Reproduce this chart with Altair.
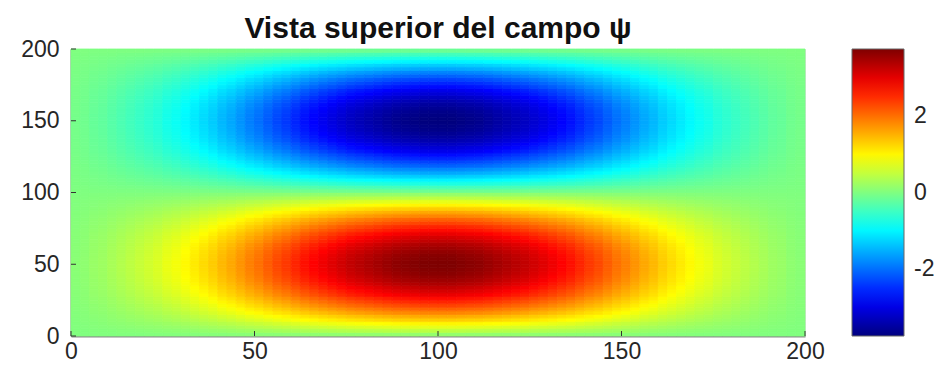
import altair as alt
import pandas as pd

# ---- values ----
title_text = "Vista superior del campo ψ"
amplitude = 3.75            # colour-bar extent (±)
cell = 2.5                  # grid spacing of the sampled field
x_ticks = [0, 50, 100, 150, 200]
y_ticks = [0, 50, 100, 150, 200]
cbar_ticks = [-2, 0, 2]

# normalised profile of psi along x (read along the row through the red core)
x_profile = [0.02, 0.03, 0.05, 0.06, 0.08, 0.10, 0.12, 0.14, 0.16, 0.18,
             0.21, 0.23, 0.26, 0.29, 0.32, 0.35, 0.39, 0.42, 0.46, 0.50,
             0.53, 0.57, 0.61, 0.64, 0.68, 0.72, 0.75, 0.78, 0.81, 0.84,
             0.87, 0.89, 0.91, 0.93, 0.95, 0.97, 0.98, 0.99, 1.00, 1.00,
             1.00, 1.00, 0.99, 0.98, 0.97, 0.95, 0.93, 0.91, 0.89, 0.87,
             0.84, 0.81, 0.78, 0.75, 0.72, 0.68, 0.64, 0.61, 0.57, 0.53,
             0.50, 0.46, 0.42, 0.39, 0.35, 0.32, 0.29, 0.26, 0.23, 0.21,
             0.18, 0.16, 0.14, 0.12, 0.10, 0.08, 0.06, 0.05, 0.03, 0.02]

# normalised profile of psi along y (read along the column x = 100)
y_profile = [0.04, 0.12, 0.20, 0.27, 0.35, 0.42, 0.49, 0.56, 0.62, 0.68,
             0.73, 0.79, 0.83, 0.87, 0.91, 0.94, 0.96, 0.98, 0.99, 1.00,
             1.00, 0.99, 0.98, 0.96, 0.94, 0.91, 0.87, 0.83, 0.79, 0.73,
             0.68, 0.62, 0.56, 0.49, 0.42, 0.35, 0.27, 0.20, 0.12, 0.04,
             -0.04, -0.12, -0.20, -0.27, -0.35, -0.42, -0.49, -0.56, -0.62, -0.68,
             -0.73, -0.79, -0.83, -0.87, -0.91, -0.94, -0.96, -0.98, -0.99, -1.00,
             -1.00, -0.99, -0.98, -0.96, -0.94, -0.91, -0.87, -0.83, -0.79, -0.73,
             -0.68, -0.62, -0.56, -0.49, -0.42, -0.35, -0.27, -0.20, -0.12, -0.04]

# jet colour map stops
jet_domain = [-amplitude, -0.75 * amplitude, -0.25 * amplitude,
              0.25 * amplitude, 0.75 * amplitude, amplitude]
jet_range = ["#00007F", "#0000FF", "#00FFFF", "#FFFF00", "#FF0000", "#7F0000"]

# ---- table ----
rows = []
for i, fx in enumerate(x_profile):
    for j, fy in enumerate(y_profile):
        v = amplitude * fx * fy
        rows.append({"x0": i * cell, "x1": (i + 1) * cell,
                     "y0": j * cell, "y1": (j + 1) * cell,
                     "psi": v, "psi_edge": v})
df = pd.DataFrame(rows)

FONT = "Liberation Sans"
TXT = "#262626"

color_scale = alt.Scale(type="linear", domain=jet_domain, range=jet_range,
                        interpolate="rgb")
edge_scale = alt.Scale(type="linear", domain=jet_domain, range=jet_range,
                       interpolate="rgb")

xs = alt.Scale(domain=[0, 200], nice=False, zero=False)
ys = alt.Scale(domain=[0, 200], nice=False, zero=False)

x_axis = alt.Axis(values=x_ticks, title=None, ticks=False, grid=False,
                  labelFont=FONT, labelFontSize=23, labelColor=TXT,
                  labelPadding=4, domainColor="#8a8a8a", domainWidth=2,
                  labelFlush=False)
y_axis = alt.Axis(values=y_ticks, title=None, ticks=False, grid=False,
                  labelFont=FONT, labelFontSize=23, labelColor=TXT,
                  labelPadding=12, domainColor="#8a8a8a", domainWidth=2,
                  labelFlush=False)

base = alt.Chart(df)

heat = base.mark_rect().encode(
    x=alt.X("x0:Q", scale=xs, axis=x_axis),
    x2="x1:Q",
    y=alt.Y("y0:Q", scale=ys, axis=y_axis),
    y2="y1:Q",
    color=alt.Color("psi:Q", scale=color_scale,
                    legend=alt.Legend(type="gradient", title=None, values=cbar_ticks,
                                      labelExpr="datum.value + ''",
                                      orient="right", direction="vertical",
                                      gradientLength=287, gradientThickness=52,
                                      gradientStrokeColor="#666", gradientStrokeWidth=1,
                                      labelFont=FONT, labelFontSize=23, labelColor=TXT,
                                      labelOffset=10, offset=47, padding=0)),
)

# thin same-coloured outlines to hide anti-aliasing seams between cells
edges = base.mark_rect(fillOpacity=0, strokeWidth=0.8).encode(
    x=alt.X("x0:Q", scale=xs, axis=x_axis),
    x2="x1:Q",
    y=alt.Y("y0:Q", scale=ys, axis=y_axis),
    y2="y1:Q",
    stroke=alt.Stroke("psi_edge:Q", scale=edge_scale, legend=None),
)

tick_df = pd.DataFrame({"t": x_ticks})
xticks = alt.Chart(tick_df).mark_rule(color="#333", strokeWidth=1).encode(
    x=alt.X("t:Q", scale=xs, axis=x_axis), y=alt.value(287), y2=alt.value(282))
ytick_df = pd.DataFrame({"t": y_ticks})
yticks = alt.Chart(ytick_df).mark_rule(color="#333", strokeWidth=1).encode(
    y=alt.Y("t:Q", scale=ys, axis=y_axis), x=alt.value(0), x2=alt.value(5))

chart = alt.layer(heat, edges, xticks, yticks).properties(
    width=734, height=287,
    title=alt.TitleParams(title_text, font=FONT, fontSize=30, fontWeight="bold",
                          color="#111", anchor="middle", frame="group", offset=11, dy=17),
    autosize=alt.AutoSizeParams(type="none"),
    padding={"left": 63, "top": 41, "right": 129, "bottom": 38},
).resolve_legend(color="independent", stroke="independent"
).configure_view(stroke=None).configure(background="white")

chart.save("out.html", embed_options={"renderer": "svg", "actions": False})
